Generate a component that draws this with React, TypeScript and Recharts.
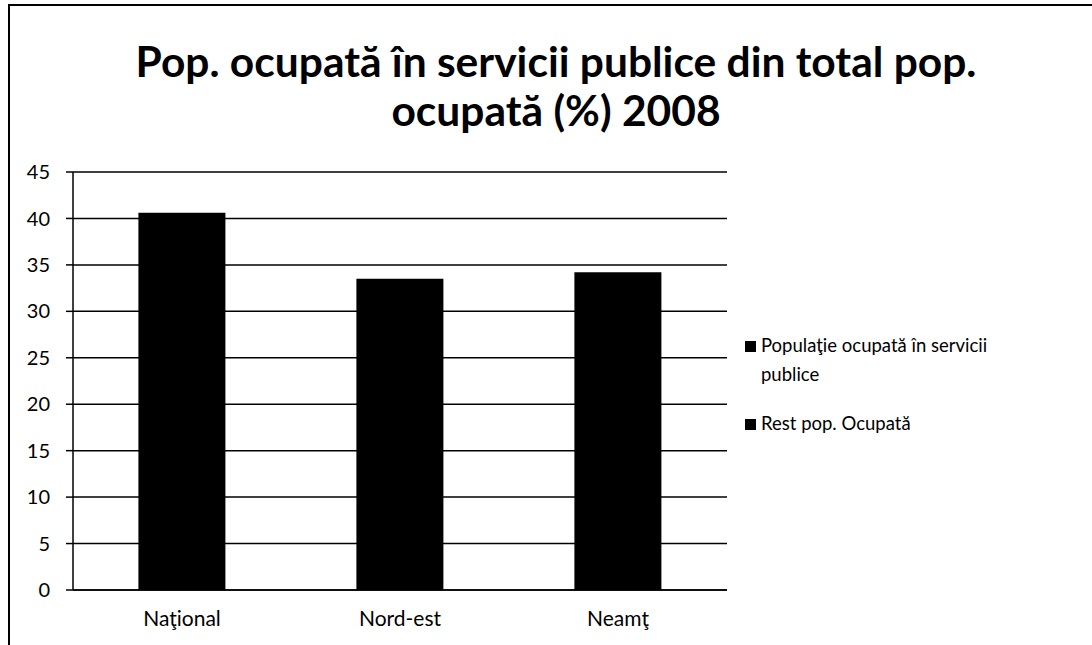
import { BarChart, Bar, XAxis, YAxis, CartesianGrid } from "recharts";

const regions = ["Naţional", "Nord-est", "Neamţ"];
const publicServices = [40.6, 33.5, 34.2];
const yTicks = [0, 5, 10, 15, 20, 25, 30, 35, 40, 45];
const edgeTicks = [0, 1, 2, 3];
const seriesNames = ["Populaţie ocupată în servicii publice", "Rest pop. Ocupată"];

const data = regions.map((name, i) => ({ name, value: publicServices[i] }));

const font = "Lato, 'Open Sans', sans-serif";

function LegendBox() {
  return (
    <div
      style={{
        position: "absolute",
        left: 735,
        top: 325,
        fontFamily: font,
        fontSize: 18.5,
        color: "#000",
        width: 300,
      }}
    >
      {seriesNames.map((s) => (
        <div
          key={s}
          style={{ position: "relative", paddingLeft: 16, lineHeight: "29px", marginBottom: 20 }}
        >
          <span
            style={{
              position: "absolute",
              left: 0,
              top: 10,
              width: 11,
              height: 11,
              background: "#000",
            }}
          />
          {s}
        </div>
      ))}
    </div>
  );
}

export default function App() {
  return (
    <div
      style={{
        position: "absolute",
        left: 8,
        top: 4,
        width: 1084,
        height: 641,
        borderLeft: "2px solid #000",
        borderTop: "2px solid #000",
        boxSizing: "border-box",
        background: "#fff",
      }}
    >
      <div
        style={{
          position: "absolute",
          left: 0,
          top: 30,
          width: 1092,
          textAlign: "center",
          fontFamily: font,
          fontWeight: 700,
          fontSize: 42.5,
          lineHeight: "49px",
          color: "#000",
        }}
      >
        Pop. ocupată în servicii publice din total pop.
        <br />
        ocupată (%) 2008
      </div>
      <BarChart
        width={1082}
        height={639}
        data={data}
        margin={{ top: 166, right: 365, bottom: 25, left: 23 }}
        barCategoryGap="30%"
        style={{ position: "absolute", left: 0, top: 0 }}
      >
        <CartesianGrid
          xAxisId="cat"
          horizontal
          vertical={false}
          stroke="#000"
          strokeWidth={1.5}
        />
        <XAxis
          xAxisId="edges"
          type="number"
          domain={[0, 3]}
          ticks={edgeTicks}
          height={0}
          axisLine={false}
          tick={false}
          tickLine={{ stroke: "#000", strokeWidth: 1.5 }}
          tickSize={7}
        />
        <XAxis
          xAxisId="cat"
          dataKey="name"
          axisLine={{ stroke: "#000", strokeWidth: 1.5 }}
          tickLine={false}
          tick={{ fill: "#000", fontFamily: font, fontSize: 21 }}
          tickMargin={15}
        />
        <YAxis
          domain={[0, 45]}
          ticks={yTicks}
          width={40}
          axisLine={{ stroke: "#000", strokeWidth: 1.5 }}
          tickLine={{ stroke: "#000", strokeWidth: 1.5 }}
          tickSize={7}
          tick={{ fill: "#000", fontFamily: font, fontSize: 20 }}
          tickMargin={16}
        />
        <Bar xAxisId="cat" dataKey="value" fill="#000" isAnimationActive={false} />
      </BarChart>
      <LegendBox />
    </div>
  );
}
